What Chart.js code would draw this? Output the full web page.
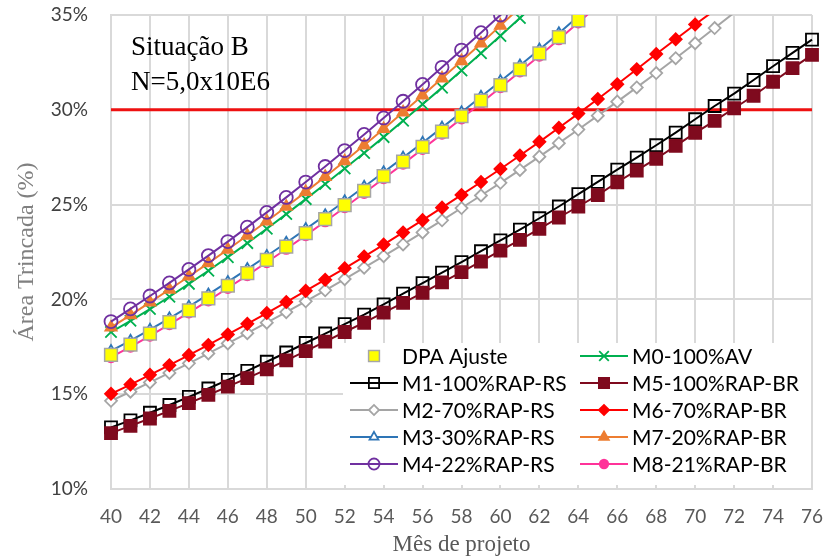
<!DOCTYPE html>
<html>
<head>
<meta charset="utf-8">
<script src="https://cdn.jsdelivr.net/npm/chart.js@4.4.1/dist/chart.umd.min.js"></script>
<style>
  html, body { margin: 0; padding: 0; background: #fff; }
</style>
</head>
<body>
<canvas id="chart" width="825" height="559"></canvas>
<script>
// month of project (x) and % cracked area (y)
const months = [40, 41, 42, 43, 44, 45, 46, 47, 48, 49, 50, 51, 52, 53, 54, 55, 56, 57, 58,
  59, 60, 61, 62, 63, 64, 65, 66, 67, 68, 69, 70, 71, 72, 73, 74, 75, 76];
const xTickValues = [40, 42, 44, 46, 48, 50, 52, 54, 56, 58, 60, 62, 64, 66, 68, 70, 72, 74, 76];
const yTickValues = [10, 15, 20, 25, 30, 35];
const limit = 30;

// every series starts at month 40
const dpaAjuste = [17.08, 17.62, 18.2, 18.8, 19.42, 20.06, 20.72, 21.39, 22.08, 22.78, 23.5, 24.23, 24.97,
  25.73, 26.5, 27.27, 28.05, 28.85, 29.66, 30.48, 31.3, 32.13, 32.97, 33.83, 34.72];
const m0 = [18.28, 18.87, 19.49, 20.14, 20.82, 21.51, 22.23, 22.97, 23.73, 24.5, 25.29, 26.09, 26.9,
  27.72, 28.56, 29.42, 30.29, 31.17, 32.07, 32.98, 33.9, 34.84, 35.8];
const m1 = [13.25, 13.62, 14.02, 14.43, 14.86, 15.3, 15.76, 16.23, 16.71, 17.2, 17.7, 18.2, 18.7, 19.2,
  19.74, 20.3, 20.86, 21.41, 21.97, 22.54, 23.11, 23.68, 24.28, 24.9, 25.55, 26.2, 26.84, 27.48, 28.13,
  28.8, 29.5, 30.2, 30.85, 31.57, 32.3, 33.0, 33.7];
const m5 = [12.95, 13.33, 13.72, 14.12, 14.53, 14.96, 15.4, 15.85, 16.31, 16.78, 17.27, 17.77, 18.28,
  18.77, 19.3, 19.82, 20.35, 20.9, 21.44, 22.0, 22.57, 23.14, 23.72, 24.32, 24.9, 25.5, 26.18, 26.8,
  27.42, 28.1, 28.78, 29.42, 30.08, 30.74, 31.48, 32.2, 32.9];
const m2 = [14.65, 15.13, 15.62, 16.12, 16.63, 17.15, 17.68, 18.22, 18.77, 19.33, 19.9, 20.48, 21.07,
  21.67, 22.28, 22.9, 23.53, 24.17, 24.82, 25.48, 26.15, 26.83, 27.53, 28.24, 28.96, 29.69, 30.43,
  31.18, 31.94, 32.72, 33.51, 34.31, 35.12];
const m6 = [15.02, 15.51, 16.02, 16.53, 17.06, 17.6, 18.15, 18.71, 19.28, 19.86, 20.45, 21.04, 21.64,
  22.26, 22.89, 23.53, 24.18, 24.84, 25.51, 26.19, 26.88, 27.59, 28.31, 29.05, 29.8, 30.57, 31.35,
  32.14, 32.94, 33.72, 34.5, 35.25];
const m3 = [17.28, 17.82, 18.4, 19.0, 19.62, 20.26, 20.92, 21.6, 22.29, 22.99, 23.71, 24.44, 25.18,
  25.94, 26.71, 27.48, 28.26, 29.06, 29.87, 30.69, 31.51, 32.34, 33.18, 34.04, 34.93, 35.83];
const m7 = [18.52, 19.17, 19.84, 20.52, 21.21, 21.91, 22.63, 23.37, 24.12, 24.89, 25.67, 26.47, 27.29,
  28.13, 28.99, 29.87, 30.76, 31.66, 32.57, 33.5, 34.44, 35.4];
const m4 = [18.83, 19.5, 20.18, 20.87, 21.58, 22.31, 23.05, 23.81, 24.59, 25.38, 26.19, 27.01, 27.85,
  28.7, 29.57, 30.45, 31.34, 32.24, 33.15, 34.07, 35.0, 35.93];
const m8 = [16.95, 17.5, 18.08, 18.68, 19.3, 19.94, 20.6, 21.27, 21.96, 22.66, 23.38, 24.11, 24.85,
  25.61, 26.38, 27.15, 27.93, 28.73, 29.54, 30.36, 31.18, 32.01, 32.85, 33.71, 34.6, 35.5];

const pts = vals => vals.map((v, i) => ({ x: months[i], y: v }));
// Excel drops markers that fall above the axis max
const rad = r => c => (c.raw && c.raw.y > 35 ? 0 : r);

function series(label, vals, color, style, r, fill, order, extra) {
  return Object.assign({
    label: label,
    data: pts(vals),
    borderColor: color,
    borderWidth: 2,
    pointStyle: style,
    pointRadius: rad(r),
    pointHoverRadius: rad(r),
    legendRadius: r,
    pointBackgroundColor: fill,
    pointBorderColor: color,
    pointBorderWidth: 1.8,
    order: order,
    clip: { left: 12, right: 12, top: 0, bottom: 12 }
  }, extra || {});
}

const none = 'rgba(0,0,0,0)';
const datasets = [
  series('DPA Ajuste', dpaAjuste, '#A6A6A6', 'rect', 9, '#FFFF00', 0, { showLine: false, pointBorderWidth: 1.5 }),
  series('M0-100%AV', m0, '#00B050', 'crossRot', 8, none, 5),
  series('M1-100%RAP-RS', m1, '#000000', 'rect', 8.5, none, 9),
  series('M5-100%RAP-BR', m5, '#7F0A1E', 'rect', 8.5, '#7F0A1E', 8),
  series('M2-70%RAP-RS', m2, '#A5A5A5', 'rectRot', 6, '#FFFFFF', 7),
  series('M6-70%RAP-BR', m6, '#FF0000', 'rectRot', 6, '#FF0000', 6),
  series('M3-30%RAP-RS', m3, '#2E75B6', 'triangle', 6, '#FFFFFF', 2),
  series('M7-20%RAP-BR', m7, '#ED7D31', 'triangle', 6.5, '#ED7D31', 4),
  series('M4-22%RAP-RS', m4, '#7030A0', 'circle', 6.5, none, 3),
  series('M8-21%RAP-BR', m8, '#FF3399', 'circle', 5, '#FF3399', 1),
  {
    label: 'limite',
    data: [{ x: months[0], y: limit }, { x: months[months.length - 1], y: limit }],
    borderColor: '#EE1111',
    borderWidth: 3,
    pointRadius: 0,
    order: 10,
    noLegend: true
  }
];

const boxLegend = {
  id: 'boxLegend',
  afterDatasetsDraw(chart) {
    const ctx = chart.ctx;
    ctx.save();
    ctx.fillStyle = '#FFFFFF';
    ctx.fillRect(343, 343, 468, 142);
    ctx.font = '21px Lato';
    ctx.textBaseline = 'middle';
    chart.data.datasets.filter(d => !d.noLegend).forEach((d, i) => {
      const col = i % 2, row = Math.floor(i / 2);
      const x0 = col ? 580 : 350;
      const y = 356 + row * 27;
      const mid = x0 + 24;
      if (d.showLine !== false) {
        ctx.strokeStyle = d.borderColor;
        ctx.lineWidth = 2;
        ctx.beginPath();
        ctx.moveTo(x0, y);
        ctx.lineTo(x0 + 48, y);
        ctx.stroke();
      }
      ctx.fillStyle = d.pointBackgroundColor;
      ctx.strokeStyle = d.pointBorderColor;
      ctx.lineWidth = d.pointBorderWidth;
      Chart.helpers.drawPoint(ctx, {
        pointStyle: d.pointStyle, rotation: 0,
        radius: d.legendRadius * 0.85, borderWidth: d.pointBorderWidth
      }, mid, y);
      ctx.fillStyle = '#000000';
      ctx.fillText(d.label, x0 + 52, y + 1);
    });
    ctx.restore();
  }
};

const note = {
  id: 'note',
  afterDraw(chart) {
    const ctx = chart.ctx;
    ctx.save();
    ctx.fillStyle = '#000000';
    ctx.font = '27px "Liberation Serif"';
    ctx.textBaseline = 'alphabetic';
    ctx.fillText('Situação B', 131, 55);
    ctx.fillText('N=5,0x10E6', 131, 90);
    ctx.restore();
  }
};

new Chart(document.getElementById('chart'), {
  type: 'line',
  data: { datasets: datasets },
  plugins: [boxLegend, note],
  options: {
    responsive: false,
    animation: false,
    layout: { padding: { top: 15, right: 13, left: 0, bottom: 0 } },
    plugins: { legend: { display: false }, tooltip: { enabled: false } },
    scales: {
      x: {
        type: 'linear',
        min: 40,
        max: 76,
        afterBuildTicks: s => { s.ticks = xTickValues.map(v => ({ value: v })); },
        afterFit: s => { s.height = 70; s.paddingLeft = 0; s.paddingRight = 0; },
        grid: { color: '#D9D9D9', lineWidth: 2, drawTicks: false },
        border: { color: '#D9D9D9', width: 2 },
        ticks: { padding: 16, color: '#595959', font: { family: 'Lato', size: 19 }, maxRotation: 0 },
        title: {
          display: true, text: 'Mês de projeto', color: '#595959',
          font: { family: 'Liberation Serif', size: 23 }, padding: { top: 0, bottom: 0 }
        }
      },
      y: {
        min: 10,
        max: 35,
        afterBuildTicks: s => { s.ticks = yTickValues.map(v => ({ value: v })); },
        afterFit: s => { s.width = 111; s.paddingTop = 0; s.paddingBottom = 0; },
        grid: { color: '#D9D9D9', lineWidth: 2, drawTicks: false },
        border: { color: '#D9D9D9', width: 2 },
        ticks: { padding: 23, color: '#404040', font: { family: 'Lato', size: 19 }, callback: v => v + '%' },
        title: {
          display: true, text: 'Área Trincada (%)', color: '#808080',
          font: { family: 'Liberation Serif', size: 24 }, padding: { top: 12, bottom: 0 }
        }
      }
    }
  }
});
</script>
</body>
</html>
